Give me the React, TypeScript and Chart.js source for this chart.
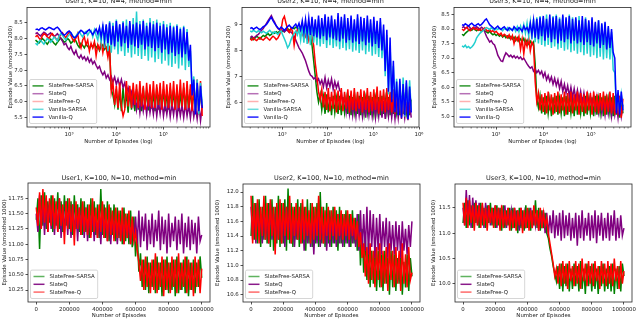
import { useEffect, useRef } from "react";
import { Chart, registerables } from "chart.js";

Chart.register(...registerables);

const FONT = '"DejaVu Sans", "Liberation Sans", sans-serif';

const seriesNames = ["SlateFree-SARSA", "SlateQ", "SlateFree-Q", "Vanilla-SARSA", "Vanilla-Q"];

// ---------- Top row (K=10, N=4), log-x episodes ----------
const u1k10LogRange = [2.29, 5.82];
const u1k10SlateFreeSarsa = [
  7.95, 7.9, 7.85, 7.92, 8.0, 7.95, 7.88, 7.82, 7.9, 7.98,
  7.92, 7.85, 7.8, 7.88, 7.95, 8.02, 7.96, 7.88, 7.92, 8.0,
  7.95, 7.85, 7.9, 7.98, 7.92, 7.8, 7.72, 7.85, 7.78, 7.7,
  7.82, 7.75, 7.68, 7.8, 7.72, 7.85, 7.7, 7.78, 7.62, 7.75,
  7.8, 7.65, 7.72, 7.55, 7.7, 6.4, 6.2, 5.9, 6.4, 5.75,
  6.35, 5.7, 6.45, 5.8, 6.3, 5.65, 6.4, 5.75, 6.35, 5.7,
  6.4, 5.75, 6.3, 5.7, 6.45, 5.8, 6.35, 5.72, 6.4, 5.78,
  6.3, 5.7, 6.45, 5.75, 6.35, 5.8, 6.4, 5.7, 6.3, 5.75,
  6.45, 5.72, 6.35, 5.78, 6.4, 5.7, 6.3, 5.75, 6.45, 5.8,
  6.35, 5.7, 6.4, 5.75, 6.3, 5.8, 6.45, 5.7, 6.35, 5.8,
];
const u1k10SlateQ = [
  8.15, 8.18, 8.12, 8.08, 8.14, 8.2, 8.16, 8.1, 8.14, 8.18,
  8.12, 8.06, 8.1, 8.15, 8.08, 8.0, 7.92, 7.8, 7.85, 7.72,
  7.65, 7.75, 7.6, 7.5, 7.62, 7.45, 7.38, 7.48, 7.35, 7.42,
  7.3, 7.4, 7.25, 7.35, 7.2, 7.28, 7.15, 7.05, 7.12, 6.95,
  6.85, 6.95, 6.75, 6.85, 6.7, 6.8, 6.62, 6.78, 6.55, 6.72,
  6.5, 6.7, 6.45, 6.6, 6.3, 6.45, 6.1, 6.3, 5.9, 6.2,
  5.75, 6.15, 5.65, 6.1, 5.7, 6.05, 5.6, 6.1, 5.65, 6.0,
  5.6, 6.05, 5.55, 6.0, 5.62, 6.05, 5.55, 5.95, 5.6, 6.0,
  5.52, 5.95, 5.58, 6.0, 5.5, 5.95, 5.55, 5.9, 5.5, 5.95,
  5.55, 5.9, 5.48, 5.95, 5.52, 5.85, 5.45, 5.9, 5.4, 5.85,
];
const u1k10SlateFreeQ = [
  8.05, 8.1, 8.02, 7.95, 8.08, 8.15, 8.12, 8.05, 8.0, 8.1,
  8.15, 8.08, 8.0, 7.95, 8.05, 8.12, 8.18, 8.1, 8.02, 8.12,
  8.2, 8.1, 7.98, 7.9, 8.02, 8.15, 7.85, 7.7, 7.95, 8.05,
  7.8, 7.95, 7.6, 7.85, 7.7, 7.9, 7.45, 7.8, 7.65, 7.9,
  7.55, 7.85, 7.7, 7.4, 7.75, 6.3, 6.6, 5.9, 6.5, 5.8,
  6.6, 5.85, 5.55, 5.75, 6.65, 5.85, 6.5, 5.8, 6.6, 5.9,
  6.55, 5.8, 6.65, 5.85, 6.5, 5.75, 6.6, 5.85, 6.55, 5.8,
  6.65, 5.8, 6.55, 5.9, 6.6, 5.75, 6.65, 5.85, 6.55, 5.8,
  6.6, 5.85, 6.65, 5.75, 6.55, 5.8, 6.7, 5.85, 6.6, 5.75,
  6.65, 5.8, 6.55, 5.7, 6.6, 5.65, 6.7, 5.6, 6.65, 5.55,
];
const u1k10VanillaSarsa = [
  7.85, 7.8, 7.9, 7.95, 7.88, 7.82, 7.92, 8.0, 7.95, 7.88,
  7.95, 8.05, 8.0, 7.92, 8.08, 8.15, 8.1, 8.02, 7.95, 8.05,
  8.12, 8.18, 8.1, 8.02, 8.08, 8.15, 8.22, 8.12, 8.05, 8.18,
  8.22, 8.1, 8.2, 8.25, 8.05, 8.28, 8.1, 7.95, 8.3, 7.85,
  8.45, 7.7, 8.4, 7.6, 8.55, 7.55, 8.5, 7.65, 8.6, 7.5,
  8.45, 7.6, 8.55, 7.45, 8.6, 7.55, 8.5, 7.4, 8.65, 7.5,
  8.85, 7.45, 8.55, 7.35, 8.6, 7.45, 8.5, 7.3, 8.65, 7.4,
  8.55, 7.25, 8.6, 7.35, 8.5, 7.2, 8.55, 7.3, 8.45, 7.15,
  8.5, 7.1, 8.4, 7.2, 8.45, 7.05, 8.35, 7.15, 8.4, 7.0,
  8.3, 7.1, 7.6, 6.4, 6.8, 5.7, 6.7, 5.6, 6.6, 5.9,
];
const u1k10VanillaQ = [
  8.28, 8.3, 8.26, 8.32, 8.34, 8.3, 8.27, 8.31, 8.35, 8.33,
  8.3, 8.28, 8.33, 8.36, 8.3, 8.22, 8.15, 8.1, 8.14, 8.2,
  8.24, 8.18, 8.08, 8.02, 8.05, 8.12, 8.2, 8.26, 8.22, 8.15,
  8.18, 8.24, 8.28, 8.2, 8.12, 8.22, 8.3, 8.15, 8.35, 8.05,
  8.4, 7.95, 8.45, 7.85, 8.5, 7.8, 8.4, 7.75, 8.55, 7.9,
  8.45, 7.75, 8.5, 7.85, 8.4, 7.7, 8.55, 7.8, 8.45, 7.75,
  8.5, 7.7, 8.45, 7.8, 8.55, 7.65, 8.4, 7.75, 8.5, 7.7,
  8.45, 7.6, 8.5, 7.7, 8.4, 7.55, 8.45, 7.65, 8.35, 7.5,
  8.4, 7.55, 8.35, 7.45, 8.4, 7.5, 8.3, 7.4, 8.35, 7.5,
  8.2, 7.3, 7.8, 6.2, 6.7, 5.6, 6.6, 5.7, 6.5, 5.8,
];

const u2k10LogRange = [2.3, 5.83];
const u2k10SlateFreeSarsa = [
  8.45, 8.5, 8.42, 8.48, 8.55, 8.5, 8.44, 8.52, 8.58, 8.54,
  8.6, 8.65, 8.58, 8.62, 8.7, 8.66, 8.72, 8.68, 8.74, 8.7,
  8.76, 8.72, 8.8, 8.85, 8.78, 8.82, 8.88, 8.84, 8.9, 8.86,
  8.82, 8.9, 8.85, 8.8, 8.88, 8.84, 8.78, 8.6, 8.2, 7.6,
  7.0, 6.4, 6.0, 6.3, 5.7, 6.2, 5.55, 6.3, 5.6, 6.2,
  5.5, 6.25, 5.6, 6.15, 5.55, 6.25, 5.5, 6.2, 5.6, 6.15,
  5.55, 6.25, 5.5, 6.2, 5.6, 6.15, 5.55, 6.25, 5.5, 6.2,
  5.55, 6.15, 5.6, 6.25, 5.5, 6.2, 5.55, 6.15, 5.6, 6.2,
  5.5, 6.25, 5.55, 6.15, 5.6, 6.2, 5.5, 6.25, 5.55, 6.15,
  5.6, 6.2, 5.5, 6.25, 5.55, 6.15, 5.6, 6.2, 5.5, 6.1,
];
const u2k10SlateQ = [
  8.5, 8.55, 8.48, 8.52, 8.58, 8.62, 8.7, 8.78, 8.85, 8.95,
  9.05, 9.15, 9.25, 9.35, 9.2, 9.1, 8.95, 8.85, 8.8, 8.75,
  8.78, 8.72, 8.8, 8.76, 8.7, 8.72, 8.65, 8.55, 8.4, 8.25,
  8.1, 8.0, 7.9, 7.75, 7.6, 7.4, 7.2, 7.05, 7.0, 6.9,
  6.95, 6.8, 6.9, 6.7, 6.85, 6.6, 6.95, 6.55, 6.85, 6.6,
  6.9, 6.5, 6.8, 6.55, 6.75, 6.45, 6.4, 5.9, 6.2, 5.6,
  6.1, 5.55, 6.15, 5.5, 6.05, 5.45, 6.1, 5.5, 6.0, 5.45,
  6.05, 5.4, 6.1, 5.5, 6.0, 5.45, 6.05, 5.4, 6.0, 5.45,
  6.1, 5.4, 6.05, 5.35, 6.0, 5.45, 6.05, 5.4, 5.95, 5.35,
  6.0, 5.4, 6.05, 5.35, 5.95, 5.4, 6.0, 5.3, 5.95, 5.4,
];
const u2k10SlateFreeQ = [
  8.45, 8.4, 8.48, 8.42, 8.38, 8.45, 8.5, 8.44, 8.4, 8.46,
  8.52, 8.45, 8.4, 8.48, 8.55, 8.5, 8.42, 8.48, 8.6, 8.8,
  9.2, 9.32, 9.05, 8.8, 8.7, 8.85, 8.75, 8.2, 8.65, 8.8,
  8.7, 8.85, 8.6, 8.75, 8.55, 8.8, 8.4, 8.7, 8.55, 8.2,
  7.5, 7.0, 6.4, 6.1, 6.5, 5.8, 6.4, 5.7, 6.55, 5.65,
  6.4, 5.75, 6.5, 5.6, 6.45, 5.7, 6.55, 5.65, 6.4, 5.75,
  6.5, 5.6, 6.45, 5.7, 6.55, 5.65, 6.4, 5.75, 6.5, 5.6,
  6.45, 5.7, 6.55, 5.6, 6.4, 5.65, 6.5, 5.7, 6.6, 5.55,
  6.45, 5.65, 6.5, 5.6, 6.55, 5.7, 6.4, 5.6, 6.5, 5.55,
  6.45, 5.6, 6.55, 5.5, 6.4, 5.55, 6.6, 5.65, 6.5, 5.7,
];
const u2k10VanillaSarsa = [
  8.75, 8.72, 8.78, 8.74, 8.7, 8.76, 8.72, 8.68, 8.74, 8.7,
  8.66, 8.72, 8.78, 8.7, 8.65, 8.72, 8.68, 8.62, 8.7, 8.75,
  8.6, 8.45, 8.3, 8.1, 8.2, 8.4, 8.55, 8.65, 8.75, 8.6,
  8.85, 8.4, 8.95, 8.3, 9.05, 8.25, 9.1, 8.2, 9.15, 8.3,
  9.05, 8.2, 9.2, 8.15, 9.1, 8.25, 9.25, 8.1, 9.15, 8.2,
  9.2, 8.1, 9.05, 8.15, 9.3, 8.05, 9.15, 8.1, 9.25, 8.0,
  9.1, 8.05, 9.2, 7.95, 9.05, 8.0, 9.25, 7.9, 9.15, 8.0,
  9.1, 7.85, 9.2, 7.95, 9.05, 7.8, 9.15, 7.85, 9.0, 7.75,
  9.1, 7.7, 8.8, 7.0, 8.6, 6.3, 8.2, 6.1, 7.4, 5.7,
  6.9, 5.6, 6.8, 5.55, 6.95, 5.45, 6.75, 5.6, 6.85, 5.7,
];
const u2k10VanillaQ = [
  8.85, 8.88, 8.82, 8.86, 8.9, 8.84, 8.8, 8.86, 8.92, 8.95,
  9.0, 9.1, 9.2, 9.28, 9.15, 9.05, 8.95, 8.88, 8.82, 8.9,
  8.85, 8.78, 8.85, 8.92, 8.98, 8.9, 8.85, 8.95, 9.02, 8.88,
  9.05, 8.8, 9.15, 8.7, 9.2, 8.65, 9.25, 8.6, 9.3, 8.55,
  9.2, 8.5, 9.35, 8.45, 9.25, 8.55, 9.4, 8.4, 9.3, 8.5,
  9.35, 8.45, 9.2, 8.4, 9.45, 8.35, 9.3, 8.45, 9.4, 8.3,
  9.25, 8.4, 9.35, 8.3, 9.2, 8.35, 9.4, 8.25, 9.3, 8.35,
  9.25, 8.2, 9.35, 8.3, 9.2, 8.15, 9.3, 8.25, 9.15, 8.1,
  9.25, 8.0, 9.0, 7.2, 8.8, 6.4, 8.5, 6.0, 7.6, 5.6,
  6.8, 5.5, 6.9, 5.4, 6.7, 5.5, 6.85, 5.35, 6.6, 5.6,
];

const u3k10LogRange = [2.285, 5.67];
const u3k10SlateFreeSarsa = [
  7.82, 7.78, 7.85, 7.9, 7.95, 8.0, 7.96, 8.02, 7.98, 7.94,
  8.0, 7.96, 7.92, 7.98, 7.94, 7.9, 7.86, 7.92, 7.85, 7.8,
  7.84, 7.78, 7.82, 7.75, 7.8, 7.72, 7.78, 7.7, 7.76, 7.68,
  7.74, 7.65, 7.72, 7.6, 7.7, 7.58, 7.66, 7.55, 7.68, 7.5,
  7.62, 7.48, 7.58, 7.45, 7.55, 6.8, 5.6, 5.3, 5.7, 5.1,
  5.65, 5.05, 5.7, 5.1, 5.6, 5.0, 5.65, 5.1, 5.7, 5.05,
  5.6, 5.1, 5.65, 5.0, 5.7, 5.05, 5.6, 5.1, 5.65, 5.0,
  5.7, 5.05, 5.6, 5.1, 5.65, 5.0, 5.7, 5.05, 5.6, 5.1,
  5.65, 5.0, 5.7, 5.05, 5.6, 5.1, 5.65, 5.0, 5.7, 5.05,
  5.6, 5.1, 5.65, 5.0, 5.7, 5.05, 5.6, 4.95, 5.65, 5.1,
];
const u3k10SlateQ = [
  8.05, 8.08, 8.02, 8.06, 8.1, 8.04, 8.0, 8.06, 8.02, 8.08,
  8.04, 8.0, 8.06, 8.02, 7.9, 7.75, 7.65, 7.55, 7.6, 7.5,
  7.45, 7.3, 7.1, 7.0, 6.9, 6.88, 7.05, 7.18, 7.12, 7.05,
  7.1, 7.02, 7.08, 7.0, 7.06, 6.98, 7.04, 6.95, 7.0, 6.9,
  6.8, 6.72, 6.65, 6.7, 6.55, 6.62, 6.5, 6.58, 6.45, 6.55,
  6.35, 6.5, 6.25, 6.4, 6.2, 6.35, 6.1, 6.3, 6.05, 6.25,
  5.95, 6.2, 5.85, 6.1, 5.8, 6.05, 5.7, 6.0, 5.65, 5.95,
  5.6, 5.9, 5.55, 5.85, 5.45, 5.8, 5.4, 5.75, 5.35, 5.7,
  5.25, 5.7, 5.2, 5.65, 5.15, 5.6, 5.1, 5.55, 5.05, 5.6,
  5.1, 5.55, 5.0, 5.5, 5.05, 5.45, 4.95, 5.5, 5.0, 5.4,
];
const u3k10SlateFreeQ = [
  8.0, 7.95, 8.02, 8.06, 7.98, 7.94, 8.0, 8.05, 7.98, 8.02,
  7.96, 8.0, 7.94, 7.98, 8.04, 7.96, 7.92, 7.98, 7.9, 7.95,
  7.88, 7.92, 7.85, 7.8, 7.86, 7.75, 7.82, 7.78, 7.7, 7.8,
  7.65, 7.78, 7.5, 7.72, 7.6, 7.75, 7.3, 7.65, 7.15, 7.6,
  7.4, 7.7, 7.25, 7.55, 7.45, 6.2, 5.5, 5.8, 5.2, 5.75,
  5.15, 5.8, 5.1, 5.85, 5.2, 5.75, 5.05, 5.8, 5.15, 5.85,
  5.1, 5.75, 5.2, 5.85, 5.05, 5.8, 5.15, 5.85, 5.1, 5.75,
  5.2, 5.85, 5.05, 5.8, 5.15, 5.75, 5.1, 5.85, 5.2, 5.8,
  5.05, 5.85, 5.15, 5.75, 5.1, 5.8, 5.2, 5.85, 5.05, 5.75,
  5.15, 5.85, 5.1, 5.8, 5.05, 5.75, 5.2, 5.7, 4.95, 5.6,
];
const u3k10VanillaSarsa = [
  7.42, 7.38, 7.44, 7.36, 7.4, 7.34, 7.38, 7.45, 7.55, 7.7,
  7.78, 7.85, 7.9, 7.95, 8.0, 8.05, 8.02, 7.98, 8.04, 8.0,
  7.96, 8.02, 7.98, 8.04, 8.0, 7.94, 8.02, 7.98, 8.05, 7.95,
  8.02, 7.96, 8.05, 7.92, 8.08, 7.9, 8.1, 7.88, 8.15, 7.85,
  8.2, 7.75, 8.25, 7.65, 8.35, 7.55, 8.4, 7.5, 8.45, 7.45,
  8.4, 7.4, 8.5, 7.45, 8.35, 7.35, 8.45, 7.4, 8.5, 7.3,
  8.4, 7.35, 8.45, 7.25, 8.35, 7.3, 8.5, 7.2, 8.4, 7.25,
  8.35, 7.15, 8.45, 7.2, 8.3, 7.1, 8.4, 7.15, 8.25, 7.05,
  8.35, 7.1, 8.2, 7.0, 8.3, 7.05, 8.15, 6.95, 8.2, 7.0,
  8.05, 6.95, 7.9, 6.6, 6.5, 5.2, 5.8, 5.1, 5.75, 5.3,
];
const u3k10VanillaQ = [
  8.15, 8.12, 8.18, 8.14, 8.1, 8.16, 8.2, 8.14, 8.1, 8.15,
  8.18, 8.12, 8.16, 8.22, 8.3, 8.35, 8.25, 8.15, 8.1, 8.05,
  8.0, 8.05, 8.1, 8.02, 7.98, 8.04, 8.08, 8.0, 7.95, 8.05,
  8.0, 7.95, 8.08, 8.02, 7.96, 8.05, 8.0, 7.92, 8.1, 7.98,
  8.05, 7.9, 8.2, 7.8, 8.3, 7.7, 8.35, 7.65, 8.4, 7.75,
  8.45, 7.6, 8.35, 7.7, 8.5, 7.55, 8.4, 7.65, 8.45, 7.5,
  8.35, 7.6, 8.5, 7.55, 8.4, 7.65, 8.45, 7.5, 8.35, 7.6,
  8.4, 7.5, 8.3, 7.55, 8.45, 7.45, 8.35, 7.55, 8.3, 7.45,
  8.4, 7.4, 8.25, 7.5, 8.3, 7.35, 8.2, 7.45, 8.25, 7.3,
  8.1, 7.35, 8.0, 7.2, 7.0, 5.1, 5.9, 5.05, 5.85, 5.2,
];

// ---------- Bottom row (K=100, N=10), linear episodes ----------
const bottomEpisodeStep = 10000;
const u1k100SlateFreeSarsa = [
  11.4, 11.75, 10.92, 11.8, 11.3, 11.85, 11.25, 11.7, 11.35, 11.8,
  11.2, 11.75, 11.3, 11.85, 11.25, 11.7, 11.2, 11.8, 11.3, 11.75,
  11.25, 11.7, 11.15, 11.8, 11.25, 11.65, 11.2, 11.75, 11.15, 11.7,
  11.2, 11.65, 11.1, 11.75, 11.2, 11.7, 11.15, 11.65, 11.1, 11.9,
  11.15, 11.65, 11.1, 11.7, 11.05, 11.6, 11.15, 11.65, 11.05, 11.6,
  11.1, 11.55, 11.0, 11.6, 11.05, 11.5, 11.0, 11.55, 10.95, 11.45,
  10.8, 11.2, 10.55, 10.85, 10.3, 10.75, 10.25, 10.8, 10.2, 10.7,
  10.3, 10.75, 10.2, 10.8, 10.25, 10.7, 10.15, 10.75, 10.25, 10.8,
  10.2, 10.7, 10.25, 10.75, 10.15, 10.8, 10.2, 10.7, 10.25, 10.75,
  10.2, 10.8, 10.15, 10.7, 10.25, 10.75, 10.2, 10.7, 10.3, 10.8,
  10.45,
];
const u1k100SlateQ = [
  11.5, 11.2, 11.8, 11.25, 11.7, 11.15, 11.75, 11.2, 11.65, 11.25,
  11.7, 11.15, 11.65, 11.2, 11.75, 11.1, 11.6, 11.2, 11.7, 11.15,
  11.6, 11.1, 11.65, 11.2, 11.55, 11.05, 11.6, 11.15, 11.55, 11.1,
  11.6, 11.05, 11.5, 11.15, 11.55, 11.05, 11.5, 11.1, 11.45, 11.0,
  11.55, 11.1, 11.45, 11.05, 11.5, 11.0, 11.45, 11.1, 11.4, 11.0,
  11.45, 11.05, 11.4, 11.0, 11.45, 11.1, 11.35, 11.0, 11.4, 11.05,
  11.45, 11.0, 11.55, 10.95, 11.45, 11.05, 11.5, 10.9, 11.4, 11.0,
  11.5, 10.95, 11.4, 11.05, 11.55, 10.9, 11.45, 11.0, 11.4, 10.85,
  11.5, 10.95, 11.35, 11.05, 11.45, 10.9, 11.4, 11.0, 11.5, 10.85,
  11.35, 10.95, 11.45, 10.9, 11.4, 11.0, 11.35, 10.85, 11.45, 11.05,
  11.15,
];
const u1k100SlateFreeQ = [
  11.6, 11.3, 11.85, 11.25, 11.9, 11.35, 11.8, 11.2, 11.75, 11.3,
  11.8, 11.25, 11.7, 11.2, 11.75, 11.3, 11.65, 11.0, 11.7, 11.25,
  11.75, 11.2, 11.65, 10.98, 11.7, 11.25, 11.6, 11.15, 11.7, 11.2,
  11.6, 11.15, 11.65, 11.1, 11.75, 11.2, 11.6, 11.1, 11.65, 11.2,
  11.7, 11.1, 11.6, 11.05, 11.65, 11.15, 11.55, 11.05, 11.6, 11.1,
  11.55, 11.05, 11.6, 11.0, 11.5, 11.1, 11.55, 11.0, 11.45, 11.05,
  11.2, 10.9, 10.7, 10.4, 10.75, 10.25, 10.8, 10.3, 10.7, 10.2,
  10.75, 10.25, 10.85, 10.2, 10.7, 10.3, 10.8, 10.15, 10.75, 10.25,
  10.7, 10.2, 10.8, 10.3, 10.75, 10.2, 10.85, 10.25, 10.7, 10.3,
  10.8, 10.2, 10.75, 10.25, 10.7, 10.15, 10.8, 10.3, 10.75, 10.2,
  10.6,
];

const u2k100SlateFreeSarsa = [
  11.4, 11.95, 11.35, 11.85, 11.3, 11.9, 11.25, 11.8, 11.35, 11.95,
  11.3, 11.85, 11.25, 11.9, 11.2, 11.8, 11.3, 11.95, 11.25, 11.85,
  11.3, 11.9, 11.2, 12.05, 11.3, 11.85, 11.25, 11.8, 11.35, 11.9,
  11.25, 11.85, 11.3, 11.8, 11.2, 11.9, 11.3, 11.85, 11.25, 11.8,
  11.3, 11.85, 11.25, 12.0, 11.3, 11.8, 11.25, 11.85, 11.3, 11.75,
  11.25, 11.8, 11.3, 11.75, 11.2, 11.8, 11.3, 11.7, 11.25, 11.75,
  11.3, 11.7, 11.25, 11.75, 11.3, 11.65, 11.2, 11.7, 11.0, 11.5,
  10.9, 11.4, 10.8, 11.3, 10.7, 11.2, 10.75, 11.25, 10.65, 11.2,
  10.7, 11.15, 10.65, 11.2, 10.75, 11.1, 10.6, 11.2, 10.7, 11.15,
  10.65, 11.1, 10.75, 11.2, 10.6, 11.05, 10.7, 11.15, 10.65, 11.1,
  10.85,
];
const u2k100SlateQ = [
  11.8, 11.35, 11.75, 11.3, 11.85, 11.4, 11.7, 11.3, 11.8, 11.35,
  11.75, 11.3, 11.85, 11.35, 11.7, 11.25, 11.8, 11.35, 11.75, 11.3,
  11.7, 11.25, 11.8, 11.35, 11.7, 11.3, 11.75, 11.25, 11.65, 11.35,
  11.7, 11.3, 11.75, 11.2, 11.7, 11.3, 11.65, 11.25, 11.7, 11.15,
  11.65, 11.3, 11.7, 11.25, 11.6, 11.3, 11.65, 11.2, 11.7, 11.25,
  11.65, 11.3, 11.6, 11.25, 11.7, 11.3, 11.6, 11.25, 11.65, 11.3,
  11.6, 11.25, 11.65, 11.3, 11.55, 11.25, 11.7, 11.2, 11.75, 11.15,
  11.7, 11.2, 11.8, 11.15, 11.75, 11.25, 11.7, 11.1, 11.65, 11.2,
  11.7, 11.15, 11.6, 11.25, 11.65, 11.1, 11.6, 11.2, 11.55, 11.15,
  11.6, 11.2, 11.55, 11.1, 11.6, 11.2, 11.5, 11.15, 11.55, 11.25,
  11.6,
];
const u2k100SlateFreeQ = [
  11.95, 11.3, 11.85, 11.35, 11.9, 11.3, 11.8, 11.4, 11.95, 11.35,
  11.85, 11.3, 11.9, 11.4, 11.8, 11.15, 11.85, 11.35, 11.9, 11.3,
  11.85, 11.4, 11.8, 11.35, 11.95, 11.3, 11.8, 11.4, 11.85, 11.35,
  11.8, 11.3, 11.9, 11.35, 11.8, 11.4, 11.75, 11.3, 11.85, 11.35,
  11.8, 11.4, 11.95, 11.35, 11.8, 11.3, 11.75, 11.4, 11.8, 11.35,
  11.75, 11.4, 11.8, 11.35, 11.7, 11.4, 11.75, 11.35, 11.7, 11.4,
  11.75, 11.35, 11.7, 11.4, 11.65, 11.35, 11.6, 11.25, 11.45, 11.1,
  11.3, 10.85, 11.25, 10.75, 11.3, 10.8, 11.2, 10.7, 11.25, 10.8,
  11.3, 10.7, 11.2, 10.75, 11.25, 10.65, 11.3, 10.8, 11.2, 10.7,
  11.25, 10.75, 11.2, 10.65, 11.3, 10.75, 11.15, 10.7, 11.25, 10.8,
  10.9,
];

const u3k100SlateFreeSarsa = [
  11.2, 11.6, 11.1, 11.65, 11.15, 11.55, 11.1, 11.6, 11.2, 11.55,
  11.1, 11.6, 11.15, 11.5, 11.1, 11.55, 11.2, 11.6, 11.15, 11.5,
  11.1, 11.55, 11.15, 11.5, 11.05, 11.55, 11.1, 11.45, 11.15, 11.5,
  11.05, 11.5, 11.1, 11.45, 11.0, 11.5, 11.1, 11.45, 11.05, 11.55,
  11.1, 11.5, 11.05, 11.45, 11.15, 11.65, 11.1, 11.5, 11.05, 11.45,
  11.1, 11.4, 11.0, 10.9, 10.7, 10.55, 10.35, 10.2, 10.05, 10.35,
  9.9, 10.4, 9.85, 10.35, 9.95, 10.4, 9.85, 10.3, 9.9, 10.4,
  9.95, 10.35, 9.85, 10.45, 9.9, 10.3, 9.8, 10.4, 9.95, 10.35,
  9.85, 10.4, 9.9, 10.3, 9.8, 10.35, 9.95, 10.4, 9.85, 10.3,
  9.9, 10.35, 9.85, 10.4, 9.8, 10.3, 9.9, 10.35, 9.85, 10.4,
  10.15,
];
const u3k100SlateQ = [
  11.5, 11.15, 11.85, 11.2, 11.75, 11.1, 11.7, 11.25, 11.65, 11.15,
  11.6, 11.2, 11.55, 11.1, 11.6, 11.25, 11.55, 11.15, 11.5, 11.2,
  11.55, 11.1, 11.5, 11.2, 11.45, 11.15, 11.55, 11.1, 11.5, 11.2,
  11.45, 11.1, 11.5, 11.15, 11.45, 11.05, 11.5, 11.15, 11.4, 11.1,
  11.45, 11.15, 11.5, 11.1, 11.4, 11.15, 11.45, 11.05, 11.4, 11.1,
  11.45, 11.0, 11.4, 10.95, 11.35, 11.0, 11.45, 10.9, 11.35, 10.95,
  11.4, 10.85, 11.45, 10.9, 11.35, 10.95, 11.4, 10.85, 11.3, 10.9,
  11.4, 10.75, 11.35, 10.9, 11.45, 10.85, 11.3, 10.95, 11.4, 10.85,
  11.35, 10.9, 11.45, 10.8, 11.35, 10.95, 11.4, 10.85, 11.3, 10.9,
  11.4, 10.85, 11.35, 10.95, 11.45, 10.85, 11.3, 10.9, 11.35, 10.95,
  11.1,
];
const u3k100SlateFreeQ = [
  11.6, 11.15, 11.7, 11.1, 11.65, 11.2, 11.55, 11.05, 11.6, 11.15,
  11.55, 11.1, 11.6, 11.15, 11.5, 11.05, 11.55, 11.2, 11.5, 11.1,
  11.55, 11.15, 11.5, 11.05, 11.55, 11.1, 11.45, 11.15, 11.5, 11.05,
  11.45, 11.1, 11.5, 11.05, 11.45, 11.15, 11.5, 11.0, 11.45, 11.1,
  11.5, 11.05, 11.45, 11.1, 11.55, 11.15, 11.45, 11.05, 11.5, 11.1,
  11.4, 11.15, 11.3, 11.0, 10.8, 10.6, 10.4, 10.15, 10.3, 10.0,
  10.4, 9.95, 10.45, 10.0, 10.4, 9.9, 10.45, 10.05, 10.35, 9.95,
  10.45, 10.0, 10.4, 9.9, 10.5, 10.05, 10.4, 9.95, 10.45, 10.0,
  10.4, 9.95, 10.45, 10.05, 10.35, 9.9, 10.45, 10.0, 10.4, 9.95,
  10.45, 10.0, 10.4, 9.95, 10.5, 10.05, 10.35, 9.9, 10.45, 10.0,
  10.25,
];

// ---------- Tick definitions ----------
const logTicks = [1e3, 1e4, 1e5, 1e6];
const logTickLabels = ["10\u00b3", "10\u2074", "10\u2075", "10\u2076"];
const linTicks = [0, 200000, 400000, 600000, 800000, 1000000];
const linTickLabels = ["0", "200000", "400000", "600000", "800000", "1000000"];
const u1k10YTicks = [5.5, 6.0, 6.5, 7.0, 7.5, 8.0, 8.5];
const u2k10YTicks = [6, 7, 8, 9];
const u3k10YTicks = [5.0, 5.5, 6.0, 6.5, 7.0, 7.5, 8.0, 8.5];
const u1k100YTicks = [10.25, 10.5, 10.75, 11.0, 11.25, 11.5, 11.75];
const u2k100YTicks = [10.6, 10.8, 11.0, 11.2, 11.4, 11.6, 11.8, 12.0];
const u3k100YTicks = [10.0, 10.5, 11.0, 11.5];

// ---------- Styles ----------
const plotColors = ["#008000", "#800080", "#ff0000", "#22cfcf", "#0000ff"];
const legendColorsTop = ["#2e962e", "#b670b6", "#ffb0b0", "#6adcdc", "#2020ff"];
const legendColorsBottom = ["#5fb35f", "#8a1a8a", "#ff6a6a"];

function logSpaced(range: number[], n: number) {
  const out: number[] = [];
  for (let i = 0; i < n; i++) out.push(Math.pow(10, range[0] + (i * (range[1] - range[0])) / (n - 1)));
  return out;
}
function linSpaced(n: number) {
  const out: number[] = [];
  for (let i = 0; i < n; i++) out.push(i * bottomEpisodeStep);
  return out;
}

type Panel = {
  title: string;
  yLabel: string;
  xLabel: string;
  log: boolean;
  area: [number, number, number, number];
  xMin: number;
  xMax: number;
  yMin: number;
  yMax: number;
  xTicks: number[];
  xTickLabels: string[];
  yTicks: number[];
  yDigits: number;
  xs: number[];
  series: number[][];
  legendColors: string[];
  titleY: number;
  yLabelX: number;
  xLabelY: number;
};

const topYLabel = "Episode Value (smoothed 200)";
const botYLabel = "Episode Value (smoothed 1000)";

const PANELS: Panel[] = [
  {
    title: "User1, K=10, N=4, method=min", yLabel: topYLabel, xLabel: "Number of Episodes (log)", log: true,
    area: [27, 7.5, 210, 127], xMin: Math.pow(10, 2.11), xMax: Math.pow(10, 5.985), yMin: 5.2, yMax: 8.98,
    xTicks: logTicks, xTickLabels: logTickLabels, yTicks: u1k10YTicks, yDigits: 1,
    xs: logSpaced(u1k10LogRange, u1k10VanillaQ.length),
    series: [u1k10SlateFreeSarsa, u1k10SlateQ, u1k10SlateFreeQ, u1k10VanillaSarsa, u1k10VanillaQ],
    legendColors: legendColorsTop, titleY: 1.5, yLabelX: 10.5, xLabelY: 142,
  },
  {
    title: "User2, K=10, N=4, method=min", yLabel: topYLabel, xLabel: "Number of Episodes (log)", log: true,
    area: [242, 7.5, 419, 127], xMin: Math.pow(10, 2.12), xMax: Math.pow(10, 6.0), yMin: 5.04, yMax: 9.66,
    xTicks: logTicks, xTickLabels: logTickLabels, yTicks: u2k10YTicks, yDigits: 0,
    xs: logSpaced(u2k10LogRange, u2k10VanillaQ.length),
    series: [u2k10SlateFreeSarsa, u2k10SlateQ, u2k10SlateFreeQ, u2k10VanillaSarsa, u2k10VanillaQ],
    legendColors: legendColorsTop, titleY: 1.5, yLabelX: 228.5, xLabelY: 142,
  },
  {
    title: "User3, K=10, N=4, method=min", yLabel: topYLabel, xLabel: "Number of Episodes (log)", log: true,
    area: [454, 7.5, 631, 127], xMin: Math.pow(10, 2.116), xMax: Math.pow(10, 5.84), yMin: 4.63, yMax: 8.74,
    xTicks: logTicks, xTickLabels: logTickLabels, yTicks: u3k10YTicks, yDigits: 1,
    xs: logSpaced(u3k10LogRange, u3k10VanillaQ.length),
    series: [u3k10SlateFreeSarsa, u3k10SlateQ, u3k10SlateFreeQ, u3k10VanillaSarsa, u3k10VanillaQ],
    legendColors: legendColorsTop, titleY: 1.5, yLabelX: 435, xLabelY: 142,
  },
  {
    title: "User1, K=100, N=10, method=min", yLabel: botYLabel, xLabel: "Number of Episodes", log: false,
    area: [28, 183, 210, 302], xMin: -50000, xMax: 1050000, yMin: 10.055, yMax: 12.0,
    xTicks: linTicks, xTickLabels: linTickLabels, yTicks: u1k100YTicks, yDigits: 2,
    xs: linSpaced(u1k100SlateFreeQ.length),
    series: [u1k100SlateFreeSarsa, u1k100SlateQ, u1k100SlateFreeQ],
    legendColors: legendColorsBottom, titleY: 178, yLabelX: 4.5, xLabelY: 315.5,
  },
  {
    title: "User2, K=100, N=10, method=min", yLabel: botYLabel, xLabel: "Number of Episodes", log: false,
    area: [243, 184, 420, 302], xMin: -50000, xMax: 1050000, yMin: 10.5, yMax: 12.11,
    xTicks: linTicks, xTickLabels: linTickLabels, yTicks: u2k100YTicks, yDigits: 1,
    xs: linSpaced(u2k100SlateFreeQ.length),
    series: [u2k100SlateFreeSarsa, u2k100SlateQ, u2k100SlateFreeQ],
    legendColors: legendColorsBottom, titleY: 178, yLabelX: 218, xLabelY: 315.5,
  },
  {
    title: "User3, K=100, N=10, method=min", yLabel: botYLabel, xLabel: "Number of Episodes", log: false,
    area: [455, 184, 632, 302], xMin: -50000, xMax: 1050000, yMin: 9.64, yMax: 11.97,
    xTicks: linTicks, xTickLabels: linTickLabels, yTicks: u3k100YTicks, yDigits: 1,
    xs: linSpaced(u3k100SlateFreeQ.length),
    series: [u3k100SlateFreeSarsa, u3k100SlateQ, u3k100SlateFreeQ],
    legendColors: legendColorsBottom, titleY: 178, yLabelX: 433.5, xLabelY: 315.5,
  },
];

function decorPlugin(p: Panel) {
  return {
    id: "decor",
    afterDraw(chart: any) {
      const ctx: CanvasRenderingContext2D = chart.ctx;
      const a = chart.chartArea;
      ctx.save();
      // frame (spines)
      ctx.strokeStyle = "#262626";
      ctx.lineWidth = 0.8;
      ctx.strokeRect(a.left, a.top, a.right - a.left, a.bottom - a.top);
      // minor log ticks
      if (p.log) {
        const xs = chart.scales.x;
        ctx.lineWidth = 0.6;
        for (let e = 2; e <= 6; e++) {
          for (let m = 2; m <= 9; m++) {
            const v = m * Math.pow(10, e);
            if (v < p.xMin || v > p.xMax) continue;
            const px = xs.getPixelForValue(v);
            ctx.beginPath();
            ctx.moveTo(px, a.bottom);
            ctx.lineTo(px, a.bottom + 1.5);
            ctx.stroke();
          }
        }
      }
      // title & axis labels
      ctx.fillStyle = "#1a1a1a";
      ctx.textAlign = "center";
      ctx.textBaseline = "middle";
      ctx.font = `6.5px ${FONT}`;
      const cx = (a.left + a.right) / 2;
      ctx.fillText(p.title, cx, p.titleY);
      ctx.font = `5.4px ${FONT}`;
      ctx.fillText(p.xLabel, cx, p.xLabelY);
      ctx.save();
      ctx.translate(p.yLabelX, (a.top + a.bottom) / 2);
      ctx.rotate(-Math.PI / 2);
      ctx.fillText(p.yLabel, 0, 0);
      ctx.restore();
      // legend
      const n = p.series.length;
      const rowH = 7.8;
      const names = seriesNames.slice(0, n);
      const maxW = Math.max(...names.map((t) => ctx.measureText(t).width));
      const bw = 19 + maxW + 3;
      const bh = n * rowH + 5;
      const bx = a.left + 2.5;
      const by = a.bottom - 3.5 - bh;
      const r = 1.5;
      ctx.beginPath();
      ctx.moveTo(bx + r, by);
      ctx.lineTo(bx + bw - r, by);
      ctx.quadraticCurveTo(bx + bw, by, bx + bw, by + r);
      ctx.lineTo(bx + bw, by + bh - r);
      ctx.quadraticCurveTo(bx + bw, by + bh, bx + bw - r, by + bh);
      ctx.lineTo(bx + r, by + bh);
      ctx.quadraticCurveTo(bx, by + bh, bx, by + bh - r);
      ctx.lineTo(bx, by + r);
      ctx.quadraticCurveTo(bx, by, bx + r, by);
      ctx.closePath();
      ctx.fillStyle = "rgba(255,255,255,0.8)";
      ctx.fill();
      ctx.strokeStyle = "#cccccc";
      ctx.lineWidth = 0.8;
      ctx.stroke();
      ctx.textAlign = "left";
      for (let k = 0; k < n; k++) {
        const y = by + 2.5 + rowH * (k + 0.5);
        ctx.strokeStyle = p.legendColors[k];
        ctx.lineWidth = 1.5;
        ctx.beginPath();
        ctx.moveTo(bx + 3, y);
        ctx.lineTo(bx + 14, y);
        ctx.stroke();
        ctx.fillStyle = "#1a1a1a";
        ctx.fillText(names[k], bx + 19, y);
      }
      ctx.restore();
    },
  };
}

function makeChart(canvas: HTMLCanvasElement, p: Panel) {
  const [L, T, R, B] = p.area;
  const n = p.series.length;
  const datasets = p.series.map((vals, k) => ({
    label: seriesNames[k],
    data: vals.map((y, i) => ({ x: p.xs[i], y })),
    borderColor: plotColors[k],
    backgroundColor: plotColors[k],
    borderWidth: 1.5,
    pointRadius: 0,
    tension: 0,
    fill: false,
    order: n - 1 - k,
  }));
  const tickFont = { family: FONT, size: 5.4 };
  return new Chart(canvas, {
    type: "line",
    data: { datasets },
    options: {
      animation: false,
      responsive: false,
      events: [],
      layout: { padding: { left: 0, top: T, right: 640 - R, bottom: 0 } },
      plugins: { legend: { display: false }, tooltip: { enabled: false }, title: { display: false } },
      scales: {
        x: {
          type: p.log ? "logarithmic" : "linear",
          min: p.xMin,
          max: p.xMax,
          afterFit: (s: any) => {
            s.height = 319 - B;
          },
          afterBuildTicks: (s: any) => {
            s.ticks = p.xTicks.filter((v) => v >= p.xMin && v <= p.xMax).map((v) => ({ value: v }));
          },
          ticks: {
            autoSkip: false,
            maxRotation: 0,
            minRotation: 0,
            padding: 1.5,
            color: "#1a1a1a",
            font: tickFont,
            callback: (_v: any, i: number) => p.xTickLabels[i],
          },
          grid: { drawOnChartArea: false, drawTicks: true, tickLength: 2.5, tickColor: "#262626", tickWidth: 0.8 },
          border: { display: false },
        },
        y: {
          type: "linear",
          min: p.yMin,
          max: p.yMax,
          afterFit: (s: any) => {
            s.width = L;
          },
          afterBuildTicks: (s: any) => {
            s.ticks = p.yTicks.map((v) => ({ value: v }));
          },
          ticks: {
            autoSkip: false,
            padding: 1.8,
            color: "#1a1a1a",
            font: tickFont,
            callback: (_v: any, i: number) => p.yTicks[i].toFixed(p.yDigits),
          },
          grid: { drawOnChartArea: false, drawTicks: true, tickLength: 2.5, tickColor: "#262626", tickWidth: 0.8 },
          border: { display: false },
        },
      },
    } as any,
    plugins: [decorPlugin(p)],
  });
}

export default function App() {
  const refs = useRef<(HTMLCanvasElement | null)[]>([]);
  useEffect(() => {
    const charts = PANELS.map((p, i) => makeChart(refs.current[i] as HTMLCanvasElement, p));
    return () => charts.forEach((c) => c.destroy());
  }, []);
  return (
    <div style={{ position: "fixed", left: 0, top: 0, width: 640, height: 319, background: "#fff", overflow: "hidden" }}>
      {PANELS.map((_, i) => (
        <canvas
          key={i}
          ref={(el) => {
            refs.current[i] = el;
          }}
          width={640}
          height={319}
          style={{ position: "absolute", left: 0, top: 0, width: 640, height: 319 }}
        />
      ))}
    </div>
  );
}
